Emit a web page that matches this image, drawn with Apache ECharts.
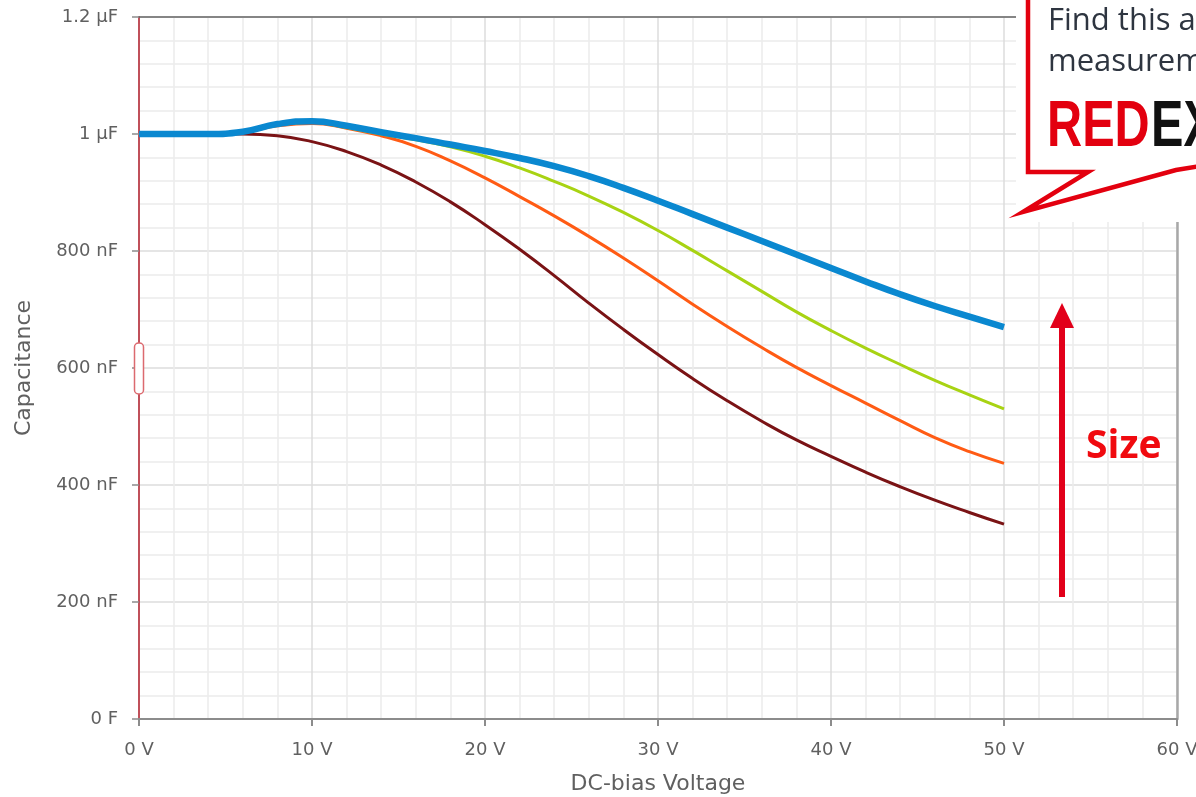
<!DOCTYPE html>
<html>
<head>
<meta charset="utf-8">
<title>DC-bias characteristic</title>
<script src="https://cdn.jsdelivr.net/npm/echarts@6/dist/echarts.min.js"></script>
<style>
  html, body { margin: 0; padding: 0; background: #ffffff; }
  #chart { width: 1196px; height: 797px; }
</style>
</head>
<body>
<div id="chart"></div>
<script>
// DC-bias voltage sample points (V)
const voltages = [0, 2, 4, 6, 8, 10, 12, 14, 16, 18, 20, 22, 24, 26, 28, 30, 32, 34, 36, 38, 40, 42, 44, 46, 48, 50];

// Capacitance in nF for four case sizes, largest first
const capSize4 = [1000, 1000, 1000, 1004, 1017, 1022, 1014, 1003, 993, 982, 971, 959, 945, 928, 908, 886, 863, 840, 817, 794, 771, 748, 726, 706, 688, 670];
const capSize3 = [1000, 1000, 1000, 1003, 1015, 1020, 1011, 1000, 990, 978, 962, 942, 919, 894, 866, 835, 801, 766, 731, 696, 664, 634, 606, 579, 554, 530];
const capSize2 = [1000, 1000, 1000, 1003, 1014, 1018, 1010, 997, 979, 954, 925, 893, 860, 825, 788, 749, 709, 671, 635, 601, 570, 540, 510, 481, 457, 437];
const capSize1 = [1000, 1000, 1000, 1000, 997, 987, 970, 947, 918, 884, 845, 803, 758, 711, 666, 623, 582, 544, 509, 477, 449, 422, 397, 374, 353, 333];

// Axis ranges and tick steps
const xRange = [0, 60];
const xStep = 10;
const yRange = [0, 1200];
const yStep = 200;

function pairs(values) {
  return voltages.map((v, i) => [v, values[i]]);
}

function capLabel(nf) {
  if (nf === 0) return '0 F';
  if (nf >= 1000) return (nf / 1000) + ' \u00b5F';
  return nf + ' nF';
}

const axisFont = 'DejaVu Sans, Verdana, sans-serif';
const labelFont = { color: '#606060', fontSize: 18, fontFamily: axisFont };
const titleFont = { color: '#606060', fontSize: 22, fontFamily: axisFont };

const chart = echarts.init(document.getElementById('chart'), null, { renderer: 'canvas' });

function lineSeries(name, values, color, width, z) {
  return {
    name: name,
    type: 'line',
    data: pairs(values),
    smooth: 0.5,
    showSymbol: false,
    symbol: 'none',
    z: z,
    lineStyle: { color: color, width: width, cap: 'butt' },
    emphasis: { disabled: true }
  };
}

const option = {
  animation: false,
  backgroundColor: '#ffffff',
  grid: { left: 139, right: 19, top: 17, bottom: 78, containLabel: false, outerBoundsMode: 'none' },
  xAxis: [
    {
      type: 'value',
      min: xRange[0], max: xRange[1], interval: xStep,
      name: 'DC-bias Voltage',
      nameLocation: 'middle',
      nameGap: 54,
      nameTextStyle: titleFont,
      axisLine: { show: true, onZero: false, lineStyle: { color: '#8c8c8c', width: 2 } },
      axisTick: { show: true, length: 7, lineStyle: { color: '#8c8c8c', width: 2 } },
      axisLabel: Object.assign({ margin: 22, formatter: v => v + ' V' }, labelFont),
      splitLine: { show: true, lineStyle: { color: '#dcdcdc', width: 1.5 } },
      minorTick: { show: false, splitNumber: 5 },
      minorSplitLine: { show: true, lineStyle: { color: '#ececec', width: 1.5 } }
    },
    {
      type: 'value', position: 'top',
      min: xRange[0], max: xRange[1], interval: xStep,
      axisLine: { show: true, onZero: false, lineStyle: { color: '#666666', width: 1.5 } },
      axisTick: { show: false }, axisLabel: { show: false }, splitLine: { show: false }
    }
  ],
  yAxis: [
    {
      type: 'value',
      min: yRange[0], max: yRange[1], interval: yStep,
      name: 'Capacitance',
      nameLocation: 'middle',
      nameGap: 104,
      nameTextStyle: titleFont,
      axisLine: { show: true, onZero: false, lineStyle: { color: '#c0505a', width: 2 } },
      axisTick: { show: true, length: 7, lineStyle: { color: '#8c8c8c', width: 1.5 } },
      axisLabel: Object.assign({ margin: 21, formatter: capLabel }, labelFont),
      splitLine: { show: true, lineStyle: { color: '#dcdcdc', width: 1.5 } },
      minorTick: { show: false, splitNumber: 5 },
      minorSplitLine: { show: true, lineStyle: { color: '#ececec', width: 1.5 } }
    },
    {
      type: 'value', position: 'right',
      min: yRange[0], max: yRange[1], interval: yStep,
      axisLine: { show: true, onZero: false, lineStyle: { color: '#a8a8a8', width: 2.5 } },
      axisTick: { show: false }, axisLabel: { show: false }, splitLine: { show: false }
    }
  ],
  series: [
    lineSeries('Size 1', capSize1, '#7a1315', 3, 2),
    lineSeries('Size 2', capSize2, '#ff5b14', 3, 3),
    lineSeries('Size 3', capSize3, '#a8d313', 3, 4),
    lineSeries('Size 4', capSize4, '#0a88d0', 6.5, 5)
  ],
  graphic: [
    // range handle on the capacitance axis
    {
      type: 'rect', z: 50,
      shape: { x: 134.5, y: 343, width: 9, height: 51, r: 4 },
      style: { fill: '#ffffff', stroke: '#dc6a6f', lineWidth: 1.5 }
    },
    // promo callout
    {
      type: 'rect', z: 60,
      shape: { x: 1016, y: 0, width: 180, height: 222 },
      style: { fill: '#ffffff' }
    },
    {
      type: 'polyline', z: 61,
      shape: { points: [[1028, -10], [1028, 172], [1088, 172], [1023, 212], [1176, 170], [1200, 166]] },
      style: { stroke: '#e3000f', lineWidth: 4.5, fill: null, lineJoin: 'miter' }
    },
    {
      type: 'text', z: 62, x: 1048, y: 6,
      style: { text: 'Find this a', fill: '#2e3540', font: '31px "Open Sans", sans-serif' }
    },
    {
      type: 'text', z: 62, x: 1048, y: 47,
      style: { text: 'measurem', fill: '#2e3540', font: '31px "Open Sans", sans-serif' }
    },
    {
      type: 'text', z: 62, x: 1047, y: 96, scaleX: 0.76,
      style: { text: 'RED', fill: '#e3000f', font: 'bold 64px "Liberation Sans", Arial, sans-serif' }
    },
    {
      type: 'text', z: 62, x: 1151, y: 96, scaleX: 0.76,
      style: { text: 'EX', fill: '#111111', font: 'bold 64px "Liberation Sans", Arial, sans-serif' }
    },
    // size arrow
    {
      type: 'line', z: 62,
      shape: { x1: 1062, y1: 597, x2: 1062, y2: 324 },
      style: { stroke: '#e2001a', lineWidth: 6 }
    },
    {
      type: 'polygon', z: 62,
      shape: { points: [[1050, 328], [1074, 328], [1062, 303]] },
      style: { fill: '#e2001a' }
    },
    {
      type: 'text', z: 62, x: 1086, y: 427,
      style: { text: 'Size', fill: '#f00a0f', font: 'bold 39px "Open Sans", sans-serif' }
    }
  ]
};

chart.setOption(option);
</script>
</body>
</html>
